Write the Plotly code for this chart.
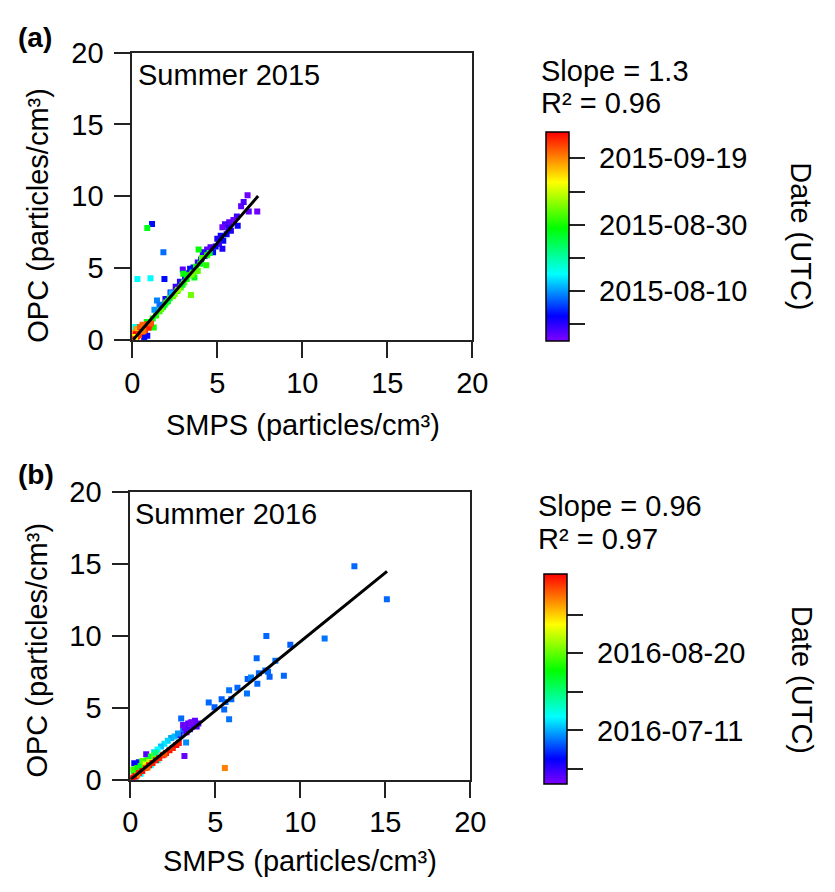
import plotly.graph_objects as go
import pandas as pd

# ---------------- data ----------------
# Panel (a) Summer 2015
a_smps = [6.78, 7.35, 6.85, 6.40, 6.55, 6.15, 5.95, 5.70, 5.45, 5.30, 6.20, 5.80, 5.55, 5.20, 5.00, 5.35,
          5.10, 4.90, 5.30, 4.60, 4.40, 4.75, 4.25, 4.05, 3.85, 3.60, 3.30, 2.97, 3.10, 2.80, 2.55, 2.25,
          1.95, 3.40, 4.15, 5.65,
          3.90, 4.35, 4.55, 4.10, 3.75, 3.55, 3.65, 3.30, 3.05, 3.20, 2.85, 2.65, 2.40, 2.20, 2.00, 1.80,
          1.60, 1.40, 3.45, 3.85, 4.00, 3.50, 2.95, 2.50, 2.10, 1.70, 1.20, 4.40, 3.00, 2.70, 1.90, 1.00,
          1.26, 0.85,
          1.45, 1.60, 1.30, 2.30,
          0.30, 1.07, 1.89, 1.83, 1.16, 0.88, 0.88, 0.70, 0.10,
          0.05, 0.10, 0.20, 0.30, 0.40, 0.50, 0.60, 0.70, 0.80, 0.90, 1.00, 0.15, 0.25, 0.35, 0.45, 0.60,
          0.05, 0.20, 0.30, 0.55, 0.75, 0.95, 0.40, 0.15, 0.65, 1.10, 0.00]
a_opc = [10.07, 8.95, 8.95, 9.30, 9.60, 8.60, 8.35, 8.20, 8.05, 7.85, 7.95, 7.60, 7.35, 7.25, 7.05, 6.90,
         6.70, 6.50, 6.35, 6.45, 6.30, 6.10, 5.85, 5.60, 5.40, 5.05, 4.65, 4.90, 4.40, 4.05, 3.70, 3.30,
         2.85, 4.95, 6.10, 7.80,
         6.30, 5.20, 6.05, 5.70, 5.10, 4.70, 4.35, 4.50, 4.00, 4.25, 3.65, 3.40, 3.05, 2.90, 2.60, 2.30,
         2.00, 1.70, 3.13, 4.80, 5.30, 4.55, 3.85, 3.20, 2.70, 2.15, 1.50, 5.90, 4.60, 3.50, 2.45, 1.20,
         0.87, 1.25,
         2.75, 2.45, 2.10, 3.25,
         4.25, 4.30, 4.25, 6.10, 8.07, 7.79, 0.30, 0.20, 0.90,
         0.10, 0.30, 0.15, 0.50, 0.55, 0.70, 0.80, 0.90, 1.00, 1.10, 1.00, 0.50, 0.75, 0.65, 0.90, 1.05,
         0.40, 0.40, 0.25, 0.55, 0.70, 0.85, 0.35, 0.20, 0.60, 1.15, 0.05]
a_date = ["07-27", "07-27", "07-28", "07-28", "07-29", "07-30", "07-27", "07-28", "07-29", "07-27", "08-02",
          "08-01", "08-02", "08-02", "08-01", "08-03", "07-30", "08-02", "08-01", "07-29", "07-28", "08-03",
          "08-02", "08-01", "07-30", "08-02", "07-29", "07-28", "08-01", "07-31", "07-30", "08-02", "08-01",
          "08-03", "07-31", "07-31",
          "08-29", "08-31", "08-27", "09-02", "08-30", "09-01", "08-28", "08-30", "09-03", "08-29", "09-02",
          "08-31", "09-04", "08-30", "09-02", "08-29", "09-01", "08-31", "09-04", "09-03", "08-28", "09-05",
          "08-27", "09-05", "08-26", "09-03", "08-30", "08-30", "08-29", "09-06", "08-28", "09-02", "08-30",
          "08-28",
          "08-09", "08-08", "08-10", "08-12",
          "08-15", "08-15", "08-03", "08-08", "08-03", "08-28", "08-02", "08-03", "08-16",
          "09-25", "09-22", "09-26", "09-20", "09-24", "09-23", "09-26", "09-21", "09-25", "09-24", "09-23",
          "09-19", "09-18", "09-16", "09-22", "09-21", "09-17", "09-27", "09-25", "09-26", "09-24", "09-25",
          "09-23", "09-12", "09-20", "09-22", "09-26"]
a_date = ["2015-" + d for d in a_date]

# Panel (b) Summer 2016
b_smps = [13.18, 15.09, 11.43, 8.00, 9.41, 7.43, 8.53, 9.03, 8.19, 7.94, 7.56, 7.47, 6.90, 6.86, 6.30, 5.81,
          5.94, 5.37, 5.52, 5.81, 4.61, 4.95, 7.10, 8.10, 5.60, 2.99, 3.28, 3.10,
          5.56,
          3.20, 3.40, 3.60, 3.80, 3.50, 3.70, 3.30, 3.10, 4.00, 3.90, 3.18, 0.93, 2.90, 3.55,
          0.23, 0.50, 2.40, 2.60, 2.20, 2.00, 1.80, 1.60, 1.40, 2.80, 1.20, 1.60, 0.60, 0.30,
          0.20, 0.40, 0.60, 0.80, 1.00, 1.20, 1.40, 0.10, 0.70, 1.10, 1.50, 0.90,
          0.05, 0.15, 0.30, 0.50, 0.70, 0.90, 1.10, 1.30, 1.50, 1.70, 1.90, 2.10, 2.30, 2.50, 2.70, 2.85,
          0.40, 1.00, 2.00, 0.20, 0.10]
b_opc = [14.85, 12.55, 9.83, 9.99, 9.38, 8.45, 8.27, 7.22, 7.16, 7.60, 7.40, 6.67, 7.00, 6.00, 6.40, 6.22,
         5.60, 5.60, 4.88, 4.20, 5.37, 5.03, 7.10, 7.50, 5.40, 4.26, 2.59, 3.40,
         0.80,
         3.60, 3.90, 4.00, 4.10, 3.50, 3.75, 3.30, 3.80, 3.90, 3.70, 1.65, 1.76, 3.10, 3.95,
         1.14, 1.20, 2.90, 3.00, 2.70, 2.50, 2.30, 2.10, 1.90, 3.20, 1.00, 1.35, 0.40, 0.10,
         0.60, 0.80, 0.95, 1.15, 1.35, 1.60, 1.70, 0.70, 1.30, 1.25, 1.85, 1.05,
         0.05, 0.15, 0.25, 0.45, 0.60, 0.80, 1.00, 1.15, 1.35, 1.50, 1.70, 1.85, 2.05, 2.20, 2.40, 2.55,
         0.30, 0.85, 1.75, 0.05, 0.00]
b_date = ["07-05", "07-05", "07-06", "07-05", "07-04", "07-05", "07-06", "07-05", "07-04", "07-06", "07-05",
          "07-05", "07-04", "07-06", "07-05", "07-06", "07-05", "07-04", "07-05", "07-06", "07-05", "07-04",
          "07-07", "07-05", "07-06", "07-05", "07-08", "07-07",
          "09-17",
          "06-16", "06-17", "06-15", "06-16", "06-18", "06-16", "06-17", "06-15", "06-16", "06-17", "06-16",
          "06-17", "06-19", "06-14",
          "06-26", "06-27", "07-10", "07-12", "07-14", "07-16", "07-13", "07-18", "07-15", "07-09", "07-18",
          "07-20", "07-17", "06-28",
          "08-10", "08-12", "08-08", "08-14", "08-11", "08-05", "08-20", "08-16", "08-18", "08-28", "07-30",
          "09-02",
          "09-28", "09-27", "09-29", "09-26", "09-28", "09-25", "09-29", "09-27", "09-28", "09-26", "09-29",
          "09-27", "09-28", "09-26", "09-29", "09-27", "09-18", "09-20", "09-22", "09-30", "09-29"]
b_date = ["2016-" + d for d in b_date]

# linear fits
a_slope, a_intercept, a_fit_x = 1.36, -0.05, [0.05, 7.4]
b_slope, b_intercept, b_fit_x = 0.96, 0.0, [0.0, 15.1]
a_stats = ["Slope = 1.3", "R² = 0.96"]
b_stats = ["Slope = 0.96", "R² = 0.97"]

# colour-bar ranges and ticks
a_crange = ["2015-07-26", "2015-09-27"]
a_major = ["2015-08-10", "2015-08-30", "2015-09-19"]
a_minor = ["2015-07-31", "2015-08-20", "2015-09-09"]
b_crange = ["2016-06-13", "2016-09-30"]
b_major = ["2016-07-11", "2016-08-20"]
b_minor = ["2016-06-21", "2016-07-31", "2016-09-09"]

axis_ticks = [0, 5, 10, 15, 20]

# ---------------- helpers ----------------
W, H = 835, 892
EPOCH = pd.Timestamp("1970-01-01")
FONT = "Liberation Sans, Arial, sans-serif"
FS = 29


def days(dates):
    return [(pd.Timestamp(d) - EPOCH) / pd.Timedelta(days=1) for d in dates]


def pxx(x):
    return x / W


def pxy(y):
    return 1 - y / H


rainbow = [[0.0, "#7f00ff"], [0.12, "#0000ff"], [0.32, "#00ffff"], [0.54, "#00ff00"],
           [0.76, "#ffff00"], [0.88, "#ff8000"], [1.0, "#ff0000"]]


def cbar(cx, cy_center, length, major, minor):
    vals = days(major) + days(minor)
    txt = ["\u00a0" + m for m in major] + ["" for _ in minor]
    return dict(x=pxx(cx), xanchor="left", y=pxy(cy_center), yanchor="middle",
                len=length, lenmode="pixels", thickness=23, thicknessmode="pixels",
                xpad=0, ypad=0, outlinewidth=1.5, outlinecolor="black",
                tickmode="array", tickvals=vals, ticktext=txt, ticks="outside",
                ticklen=16, tickwidth=1.5, tickcolor="#222",
                tickfont=dict(family=FONT, size=FS, color="black"))


fig = go.Figure()

# panel a
fig.add_trace(go.Scatter(
    x=a_smps, y=a_opc, mode="markers", xaxis="x", yaxis="y",
    marker=dict(symbol="square", size=6, color=days(a_date), colorscale=rainbow,
                cmin=days(a_crange)[0], cmax=days(a_crange)[1], showscale=True,
                colorbar=cbar(554, 228.5, 209, a_major, a_minor)),
    showlegend=False))
fig.add_trace(go.Scatter(
    x=a_fit_x, y=[a_slope * v + a_intercept for v in a_fit_x], mode="lines",
    xaxis="x", yaxis="y", line=dict(color="black", width=3), showlegend=False))

# panel b
fig.add_trace(go.Scatter(
    x=b_smps, y=b_opc, mode="markers", xaxis="x2", yaxis="y2",
    marker=dict(symbol="square", size=6, color=days(b_date), colorscale=rainbow,
                cmin=days(b_crange)[0], cmax=days(b_crange)[1], showscale=True,
                colorbar=cbar(552, 688, 210, b_major, b_minor)),
    showlegend=False))
fig.add_trace(go.Scatter(
    x=b_fit_x, y=[b_slope * v + b_intercept for v in b_fit_x], mode="lines",
    xaxis="x2", yaxis="y2", line=dict(color="black", width=3), showlegend=False))

ax = dict(range=[0, 20], tickmode="array", tickvals=axis_ticks, showline=True, mirror=True,
          linecolor="#222", linewidth=2, ticks="outside", ticklen=16, tickwidth=2,
          tickcolor="#222", showgrid=False, zeroline=False,
          tickfont=dict(family=FONT, size=FS, color="black"))
xax = dict(ax, ticklabelstandoff=0)
yax = dict(ax, ticklabelstandoff=5)

fig.update_layout(
    width=W, height=H, margin=dict(l=0, r=0, t=0, b=0),
    paper_bgcolor="white", plot_bgcolor="white",
    xaxis=dict(xax, domain=[pxx(128), pxx(478)], anchor="y"),
    yaxis=dict(yax, domain=[pxy(336), pxy(38)], anchor="x"),
    xaxis2=dict(xax, domain=[pxx(126), pxx(476)], anchor="y2"),
    yaxis2=dict(yax, domain=[pxy(792), pxy(494)], anchor="x2"),
)


def ann(text, x, y, xanchor="center", yanchor="middle", angle=0, size=FS, bold=False):
    fig.add_annotation(text=("<b>%s</b>" % text) if bold else text,
                       x=pxx(x), y=pxy(y), xref="paper", yref="paper",
                       xanchor=xanchor, yanchor=yanchor, textangle=angle, showarrow=False,
                       font=dict(family=FONT, size=size, color="black"))


# panel a labels
ann("(a)", 8, 22, xanchor="left", size=28, bold=True)
ann("Summer 2015", 132, 61, xanchor="left")
ann("SMPS (particles/cm³)", 304, 424)
ann("OPC (particles/cm³)", 30, 207, angle=-90)
ann(a_stats[0], 547, 57, xanchor="left")
ann(a_stats[1], 547, 90, xanchor="left")
ann("Date (UTC)", 817, 228, angle=90)

# panel b labels
ann("(b)", 8, 476, xanchor="left", size=28, bold=True)
ann("Summer 2016", 129, 517, xanchor="left")
ann("SMPS (particles/cm³)", 301, 876)
ann("OPC (particles/cm³)", 30, 658, angle=-90)
ann(b_stats[0], 544, 508, xanchor="left")
ann(b_stats[1], 544, 542, xanchor="left")
ann("Date (UTC)", 817, 688, angle=90)

fig.write_html("out.html")
